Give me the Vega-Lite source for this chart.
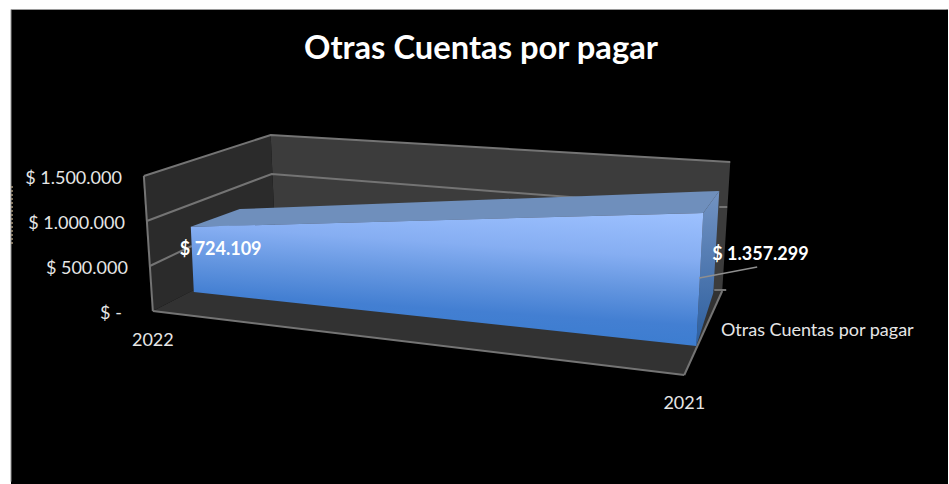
{
  "$schema": "https://vega.github.io/schema/vega-lite/v6.json",
  "width": 949,
  "height": 484,
  "padding": 0,
  "autosize": {"type": "fit", "contains": "padding"},
  "background": "#ffffff",
  "config": {"view": {"stroke": null}},
  "title": {"text": "Otras Cuentas por pagar", "anchor": "middle", "frame": "group", "dx": 7, "offset": -66, "fontSize": 32.7, "font": "Lato", "fontWeight": "bold", "color": "#ffffff"},
  "datasets": {
    "panel": [{"year": 2022.2669, "year2": 2020.50376, "peso": 3361100, "peso2": -1911111}],
    "panelBorder": [
      {"edge": "left", "step": 1, "year": 2022.2669, "peso": -1885000},
      {"edge": "left", "step": 2, "year": 2022.2669, "peso": 3361100},
      {"edge": "top", "step": 1, "year": 2022.2669, "peso": 3361100},
      {"edge": "top", "step": 2, "year": 2020.507, "peso": 3361100}
    ],
    "faces": [
      {"face": "leftWall", "year": 2022.0169, "peso": 1511100, "peso2": 1511100},
      {"face": "leftWall", "year": 2022, "peso": 1543300, "peso2": 11100},
      {"face": "leftWall", "year": 2021.7782, "peso": 1966700, "peso2": 682200},
      {"face": "leftWall", "year": 2021.7688, "peso": 711100, "peso2": 711100},
      {"face": "backWall", "year": 2021.7782, "peso": 1966700, "peso2": 1966700},
      {"face": "backWall", "year": 2021.7688, "peso": 1963300, "peso2": 711100},
      {"face": "backWall", "year": 2020.9286, "peso": 1672200, "peso2": 233300},
      {"face": "backWall", "year": 2020.9135, "peso": 1666700, "peso2": 1666700},
      {"face": "floor", "year": 2022, "peso": 11100, "peso2": 11100},
      {"face": "floor", "year": 2021.7688, "peso": 711100, "peso2": -153300},
      {"face": "floor", "year": 2021, "peso": 274400, "peso2": -700000},
      {"face": "floor", "year": 2020.9286, "peso": 233300, "peso2": 233300},
      {"face": "top", "year": 2021.9286, "peso": 946309, "peso2": 946309},
      {"face": "top", "year": 2021.8365, "peso": 1144400, "peso2": 959300},
      {"face": "top", "year": 2020.9643, "peso": 1337800, "peso2": 1100000},
      {"face": "top", "year": 2020.9342, "peso": 1344400, "peso2": 1344400},
      {"face": "side", "year": 2020.9774, "peso": -377800, "peso2": -377800},
      {"face": "side", "year": 2020.9643, "peso": 1100000, "peso2": -135600},
      {"face": "side", "year": 2020.9455, "peso": 1252800, "peso2": 211100},
      {"face": "side", "year": 2020.9342, "peso": 1344400, "peso2": 1344400},
      {"face": "front", "year": 2021.9286, "peso": 946309, "peso2": 946309},
      {"face": "front", "year": 2021.9229, "peso": 947200, "peso2": 222200},
      {"face": "front", "year": 2020.9774, "peso": 1097800, "peso2": -377800},
      {"face": "front", "year": 2020.9643, "peso": 1100000, "peso2": 1100000}
    ],
    "edges": [
      {"edge": "wallTop", "step": 1, "year": 2022.0169, "peso": 1511100},
      {"edge": "wallTop", "step": 2, "year": 2021.7782, "peso": 1966700},
      {"edge": "wallTop", "step": 3, "year": 2020.9135, "peso": 1666700},
      {"edge": "grid1M", "step": 1, "year": 2022.0113, "peso": 1011100},
      {"edge": "grid1M", "step": 2, "year": 2021.7763, "peso": 1533300},
      {"edge": "grid1M", "step": 3, "year": 2021.1598, "peso": 1252200},
      {"edge": "grid500k", "step": 1, "year": 2022.0056, "peso": 511100},
      {"edge": "grid500k", "step": 2, "year": 2021.9267, "peso": 733300},
      {"edge": "wallLeft", "step": 1, "year": 2022.0169, "peso": 1511100},
      {"edge": "wallLeft", "step": 2, "year": 2022, "peso": 11100},
      {"edge": "floorFront", "step": 1, "year": 2022, "peso": 11100},
      {"edge": "floorFront", "step": 2, "year": 2021, "peso": -700000},
      {"edge": "floorRight", "step": 1, "year": 2021, "peso": -700000},
      {"edge": "floorRight", "step": 2, "year": 2020.9286, "peso": 233300},
      {"edge": "tickUpper", "step": 1, "year": 2020.9342, "peso": 1166700},
      {"edge": "tickUpper", "step": 2, "year": 2020.9192, "peso": 1166700},
      {"edge": "tickLower", "step": 1, "year": 2020.9436, "peso": 244400},
      {"edge": "tickLower", "step": 2, "year": 2020.9211, "peso": 244400}
    ],
    "leader": [
      {"year": 2020.9718, "peso": 377800},
      {"year": 2020.8628, "peso": 500000}
    ],
    "hiddenTitle": [
      {"year": 2022.265, "peso": 1400000},
      {"year": 2022.265, "peso": 744400}
    ],
    "valueTicks": [
      {"year": 2022.0583, "peso": 1500000, "label": "$ 1.500.000"},
      {"year": 2022.0526, "peso": 1000000, "label": "$ 1.000.000"},
      {"year": 2022.047, "peso": 500000, "label": "$ 500.000"},
      {"year": 2022.0583, "peso": 0, "label": "$ -"}
    ],
    "yearTicks": [
      {"year": 2022, "peso": -300000, "label": "2022"},
      {"year": 2021, "peso": -996700, "label": "2021"}
    ],
    "series": [
      {"year": 2020.931, "peso": -200000, "label": "Otras Cuentas por pagar"}
    ],
    "values": [
      {"year": 2021.9492, "peso": 711100, "value": 724109, "label": "$ 724.109"},
      {"year": 2020.9474, "peso": 655600, "value": 1357299, "label": "$ 1.357.299"}
    ]
  },
  "encoding": {
    "x": {"field": "year", "type": "quantitative", "axis": null, "scale": {"domain": [2022.28759, 2020.50376], "nice": false, "zero": false}},
    "y": {"field": "peso", "type": "quantitative", "axis": null, "stack": null, "scale": {"domain": [-1911111, 3466667], "nice": false, "zero": false}}
  },
  "layer": [
    {
      "data": {"name": "panel"},
      "mark": {"type": "rect", "fill": "#000000"},
      "encoding": {"x2": {"field": "year2"}, "y2": {"field": "peso2"}}
    },
    {
      "data": {"name": "panelBorder"},
      "mark": {"type": "line", "color": "#9a9a9a", "strokeWidth": 1},
      "encoding": {"detail": {"field": "edge"}, "order": {"field": "step"}}
    },
    {
      "data": {"name": "hiddenTitle"},
      "mark": {"type": "line", "color": "#a8977c", "strokeWidth": 1.5, "strokeDash": [2, 2]}
    },
    {
      "data": {"name": "faces"},
      "transform": [{"filter": "datum.face === 'leftWall'"}],
      "mark": {"type": "area", "color": "#2b2b2b"},
      "encoding": {"y2": {"field": "peso2"}}
    },
    {
      "data": {"name": "faces"},
      "transform": [{"filter": "datum.face === 'backWall'"}],
      "mark": {"type": "area", "color": "#3c3c3c"},
      "encoding": {"y2": {"field": "peso2"}}
    },
    {
      "data": {"name": "faces"},
      "transform": [{"filter": "datum.face === 'floor'"}],
      "mark": {"type": "area", "color": "#323232"},
      "encoding": {"y2": {"field": "peso2"}}
    },
    {
      "data": {"name": "edges"},
      "mark": {"type": "line", "color": "#747474", "strokeWidth": 2},
      "encoding": {"detail": {"field": "edge"}, "order": {"field": "step"}}
    },
    {
      "data": {"name": "faces"},
      "transform": [{"filter": "datum.face === 'top'"}],
      "mark": {"type": "area", "color": "#6f8fbc"},
      "encoding": {"y2": {"field": "peso2"}}
    },
    {
      "data": {"name": "faces"},
      "transform": [{"filter": "datum.face === 'side'"}],
      "mark": {"type": "area", "color": {"x1": 0, "y1": 0, "x2": 0, "y2": 1, "gradient": "linear", "stops": [{"offset": 0, "color": "#7393c2"}, {"offset": 1, "color": "#2c5e9e"}]}},
      "encoding": {"y2": {"field": "peso2"}}
    },
    {
      "data": {"name": "faces"},
      "transform": [{"filter": "datum.face === 'front'"}],
      "mark": {"type": "area", "color": {"x1": 1, "y1": 0, "x2": 0.765, "y2": 0.941, "gradient": "linear", "stops": [{"offset": 0, "color": "#9dc1ff"}, {"offset": 0.35, "color": "#86aef2"}, {"offset": 0.6, "color": "#6496e0"}, {"offset": 0.85, "color": "#437fd2"}, {"offset": 1, "color": "#3d7dd0"}]}},
      "encoding": {"y2": {"field": "peso2"}}
    },
    {
      "data": {"name": "leader"},
      "mark": {"type": "line", "color": "#8f8f8f", "strokeWidth": 1.3}
    },
    {
      "data": {"name": "valueTicks"},
      "mark": {"type": "text", "align": "right", "baseline": "middle", "dy": 2, "font": "Lato", "fontSize": 18, "color": "#e6e6e6"},
      "encoding": {"text": {"field": "label"}}
    },
    {
      "data": {"name": "yearTicks"},
      "mark": {"type": "text", "align": "center", "baseline": "middle", "dy": 2, "font": "Lato", "fontSize": 18, "color": "#e6e6e6"},
      "encoding": {"text": {"field": "label"}}
    },
    {
      "data": {"name": "series"},
      "mark": {"type": "text", "align": "left", "baseline": "middle", "dy": 1, "font": "Lato", "fontSize": 18, "color": "#e6e6e6"},
      "encoding": {"text": {"field": "label"}}
    },
    {
      "data": {"name": "values"},
      "mark": {"type": "text", "align": "left", "baseline": "middle", "dy": 2, "font": "Lato", "fontSize": 18, "fontWeight": "bold", "color": "#ffffff"},
      "encoding": {"text": {"field": "label"}}
    }
  ]
}
